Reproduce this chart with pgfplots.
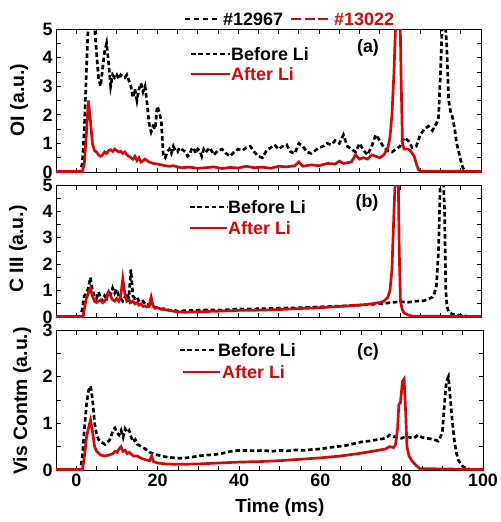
\documentclass[border=0pt]{standalone}
\usepackage{pgfplots}
\pgfplotsset{compat=1.18}
\usepackage{fontspec}
\setmainfont{Liberation Sans}
\definecolor{myred}{RGB}{212,8,8}
\newcommand{\fs}[1]{\fontsize{#1}{#1}\selectfont}
\tikzset{
  bl/.style={black, line width=2.7pt, dash pattern=on 4.5bp off 2.8bp},
  rd/.style={myred, line width=2.7pt},
}
\pgfplotsset{
  panel/.style={
    scale only axis, width=425bp, xmin=-5, xmax=100,
    axis line style={line width=0.9pt},
    tick style={black, line width=0.8pt},
    major tick length=4.5bp, minor tick length=4.5bp,
    tick pos=both, tick align=inside,
    xtick={0,20,...,100}, minor x tick num=3,
    minor y tick num=1,
    ticklabel style={font=\bfseries\fs{18}},
    /pgf/number format/assume math mode=true,
  },
}
\begin{document}
\begin{tikzpicture}
\useasboundingbox (0bp,0bp) rectangle (501bp,-522bp);
% ---------- (a)
\begin{axis}[panel, at={(56bp,-172bp)}, anchor=south west, height=143bp,
  ymin=0, ymax=5, ytick={0,1,...,5}, xticklabels={}]
\addplot[bl] coordinates {(-5,0) (1,0) (1.5,0.3) (2,1.5) (2.5,3.5) (3,5.3) (3.5,5.6) (4,5.4) (4.5,5.1) (5,4.2) (5.5,3.3) (6,3.0) (6.5,3.6) (7,4.2) (7.5,4.5) (8,3.8) (8.5,3.0) (9,3.4) (9.5,3.3) (10,3.4) (10.5,3.25) (11,3.4) (11.5,3.35) (12,3.3) (12.5,3.4) (13,3.2) (13.5,3.0) (14,2.6) (14.5,2.9) (15,2.5) (15.5,2.9) (16,3.1) (16.5,2.8) (17,3.0) (17.5,2.4) (18,1.7) (18.5,1.4) (19,1.6) (19.5,1.5) (20,2.3) (20.5,2.1) (21,1.8) (21.5,0.6) (22,0.5) (22.5,0.7) (23,0.8) (23.5,0.65) (24,0.9) (24.5,0.75) (25,0.7) (25.5,0.85) (26,0.8) (26.5,0.75) (27,0.7) (27.5,0.55) (28,0.6) (28.5,0.8) (29,0.85) (29.5,0.65) (30,0.8) (30.5,0.75) (31,0.55) (31.5,0.8) (32,0.7) (33,0.85) (34,0.6) (35,0.75) (36,0.8) (37,0.65) (38,0.55) (39,0.7) (40,0.8) (41,0.75) (42,0.85) (43,0.9) (44,0.7) (45,0.55) (46,0.5) (47,0.75) (48,0.85) (49,0.95) (50,0.8) (51,0.9) (52,0.95) (53,0.7) (54,0.65) (55,1.0) (56,0.9) (57,0.7) (58,0.65) (59,0.75) (60,0.85) (61,0.9) (62,1.0) (63,0.95) (64,1.1) (65,1.0) (66,1.3) (67,0.9) (68,0.8) (69,0.7) (70,1.0) (71,0.75) (72,0.6) (73,0.9) (74,1.3) (75,1.1) (76,0.85) (77,0.75) (78,0.7) (79,0.8) (80,0.9) (81,1.2) (82,1.1) (83,0.85) (84,0.9) (85,1.3) (86,1.5) (87,1.6) (88,1.45) (89,1.7) (89.5,1.9) (90,3.5) (90.5,5.5) (91,5.6) (91.5,4.5) (92,2.5) (92.5,2.1) (93,1.9) (93.5,1.5) (94,1.0) (94.5,0.7) (95,0.4) (95.5,0.15) (96,0.05) (97,0) (100,0)};
\addplot[rd] coordinates {(-5,0.02) (1.5,0.02) (2,0.3) (2.5,1.3) (3,2.5) (3.5,1.8) (4,1.0) (4.5,0.75) (5,0.7) (5.5,0.6) (6,0.55) (6.5,0.6) (7,0.7) (7.5,0.65) (8,0.75) (8.5,0.78) (9,0.72) (9.5,0.8) (10,0.75) (10.5,0.7) (11,0.72) (11.5,0.65) (12,0.7) (12.5,0.6) (13,0.55) (13.5,0.5) (14,0.45) (14.5,0.55) (15,0.4) (15.5,0.5) (16,0.35) (16.5,0.4) (17,0.45) (17.5,0.4) (18,0.35) (19,0.3) (20,0.28) (21,0.25) (22,0.22) (23,0.2) (24,0.22) (25,0.18) (26,0.15) (28,0.17) (30,0.13) (32,0.15) (34,0.18) (36,0.12) (38,0.16) (40,0.14) (42,0.2) (44,0.15) (46,0.17) (48,0.13) (50,0.2) (52,0.18) (54,0.22) (55,0.35) (56,0.2) (58,0.25) (60,0.22) (62,0.3) (64,0.28) (65,0.38) (66,0.3) (68,0.35) (69,0.6) (70,0.45) (71,0.5) (72,0.45) (73,0.6) (74,0.55) (75,0.5) (76,0.6) (77,0.85) (77.5,1.2) (78,2.0) (78.5,3.5) (79,5.5) (79.5,6) (80,5.5) (80.3,3.0) (80.6,1.0) (81,0.8) (82,0.8) (82.5,0.75) (83,0.65) (83.5,0.55) (84,0.3) (84.5,0.1) (85,0.03) (100,0.02)};
\end{axis}
% ---------- (b)
\begin{axis}[panel, at={(56bp,-317bp)}, anchor=south west, height=132bp,
  ymin=0, ymax=5, ytick={0,1,...,5}, xticklabels={}]
\addplot[bl] coordinates {(-5,0) (1,0) (1.5,0.3) (2,0.8) (2.5,0.9) (3,1.1) (3.5,1.5) (4,1.0) (4.5,0.8) (5,0.7) (5.5,0.95) (6,0.75) (6.5,0.6) (7,0.8) (7.5,0.7) (8,1.0) (8.5,0.85) (9,1.1) (9.5,0.9) (10,1.05) (10.5,0.8) (11,0.7) (11.5,0.6) (12,0.75) (12.5,0.9) (13,0.7) (13.5,1.8) (14,0.8) (14.5,0.7) (15,0.75) (15.5,0.6) (16,0.55) (16.5,0.6) (17,0.5) (17.5,0.45) (18,0.5) (19,0.4) (20,0.35) (21,0.3) (22,0.32) (23,0.25) (24,0.28) (25,0.22) (27,0.24) (30,0.25) (33,0.27) (36,0.26) (40,0.3) (45,0.31) (50,0.33) (55,0.35) (60,0.38) (65,0.41) (70,0.45) (75,0.5) (78,0.55) (80,0.58) (82,0.56) (84,0.6) (86,0.62) (87,0.68) (88,0.75) (88.5,0.9) (89,1.2) (89.5,2.5) (90,5.5) (90.5,6) (91,4.0) (91.3,1.0) (91.6,0.4) (92,0.2) (93,0.1) (95,0.06) (97,0.02) (100,0.02)};
\addplot[rd] coordinates {(-5,0.02) (1.7,0.02) (2,0.3) (2.5,0.7) (3,0.9) (3.5,1.1) (4,0.8) (4.5,0.6) (5,0.55) (5.5,0.6) (6,0.65) (6.5,0.55) (7,0.6) (7.5,0.7) (8,0.95) (8.5,0.8) (9,0.65) (9.5,0.6) (10,0.7) (10.5,0.6) (11,0.8) (11.5,1.45) (12,0.9) (12.5,0.6) (13,0.65) (13.5,0.55) (14,0.6) (14.5,0.5) (15,0.55) (15.5,0.45) (16,0.5) (16.5,0.4) (17,0.42) (17.5,0.38) (18,0.4) (18.5,0.75) (19,0.4) (19.5,0.33) (20,0.35) (21,0.3) (22,0.28) (23,0.25) (24,0.22) (25,0.2) (27,0.18) (30,0.2) (35,0.22) (40,0.25) (45,0.26) (50,0.28) (55,0.32) (60,0.35) (65,0.4) (70,0.45) (73,0.5) (75,0.55) (76,0.6) (77,0.75) (77.5,1.0) (78,1.8) (78.5,4) (79,6) (79.5,6) (79.8,2.5) (80.1,0.6) (80.5,0.3) (81,0.15) (82,0.08) (83,0.03) (100,0.02)};
\end{axis}
% ---------- (c)
\begin{axis}[panel, at={(56bp,-470bp)}, anchor=south west, height=140bp, width=427bp,
  ymin=0, ymax=3, ytick={0,1,2,3}]
\addplot[bl] coordinates {(-5,0) (1,0) (1.5,0.3) (2,0.9) (2.5,1.4) (3,1.7) (3.5,1.8) (4,1.5) (4.5,1.0) (5,0.75) (5.5,0.65) (6,0.6) (6.5,0.58) (7,0.55) (7.5,0.6) (8,0.62) (8.5,0.7) (9,0.85) (9.5,0.9) (10,0.8) (10.5,0.75) (11,0.85) (11.5,0.7) (12,0.88) (12.5,0.8) (13,0.85) (13.5,0.7) (14,0.6) (14.5,0.65) (15,0.55) (16,0.5) (17,0.45) (18,0.38) (19,0.35) (20,0.32) (22,0.28) (24,0.26) (26,0.25) (28,0.27) (30,0.3) (32,0.32) (34,0.33) (36,0.36) (38,0.4) (40,0.42) (42,0.42) (44,0.41) (46,0.42) (48,0.4) (50,0.42) (52,0.41) (54,0.43) (56,0.42) (58,0.44) (60,0.45) (62,0.48) (64,0.5) (66,0.52) (68,0.56) (70,0.6) (72,0.62) (74,0.65) (76,0.68) (77,0.75) (78,0.72) (79,0.7) (80,0.68) (81,0.72) (82,0.7) (83,0.68) (84,0.75) (85,0.7) (86,0.68) (87,0.67) (88,0.65) (89,0.62) (89.5,0.7) (90,0.8) (90.5,1.4) (91,1.9) (91.5,2.0) (92,1.5) (92.5,1.0) (93,0.6) (93.5,0.35) (94,0.2) (95,0.08) (96,0.03) (97,0.01) (100,0)};
\addplot[rd] coordinates {(-5,0.01) (1.5,0.01) (2,0.3) (2.5,0.7) (3,0.9) (3.5,1.07) (4,0.8) (4.5,0.5) (5,0.4) (6,0.32) (7,0.3) (8,0.32) (9,0.35) (9.5,0.4) (10,0.38) (10.5,0.45) (11,0.5) (11.5,0.4) (12,0.42) (12.5,0.35) (13,0.38) (14,0.3) (15,0.3) (16,0.25) (17,0.22) (18,0.2) (18.5,0.3) (19,0.18) (20,0.15) (22,0.13) (25,0.12) (30,0.13) (35,0.15) (40,0.17) (45,0.18) (50,0.2) (55,0.23) (60,0.26) (65,0.3) (70,0.36) (74,0.42) (76,0.45) (77,0.5) (78,0.48) (78.5,0.55) (79,0.9) (79.3,1.4) (79.7,1.45) (80.2,1.9) (80.6,1.95) (81,1.2) (81.3,0.5) (81.8,0.3) (82.5,0.2) (83.5,0.1) (84.5,0.03) (100,0.01)};
\end{axis}
% ---------- labels
\node[rotate=90, font=\bfseries\fs{19.5}] at (19bp,-100bp) {OI (a.u.)};
\node[rotate=90, font=\bfseries\fs{19.5}] at (18bp,-249bp) {C III (a.u.)};
\node[rotate=90, font=\bfseries\fs{19.5}] at (22bp,-401bp) {Vis Contm (a.u.)};
\node[font=\bfseries\fs{19}] at (280bp,-508bp) {Time (ms)};
% top legend
\draw[black, line width=1.3pt, dash pattern=on 5bp off 4bp] (185bp,-19bp) -- (220bp,-19bp);
\node[anchor=west, inner sep=0pt, font=\bfseries\fs{18}] at (223bp,-19bp) {\#12967};
\draw[myred, line width=1.3pt, dash pattern=on 10bp off 3.5bp] (291bp,-19bp) -- (329bp,-19bp);
\node[anchor=west, inner sep=0pt, text=myred, font=\bfseries\fs{18}] at (334bp,-19bp) {\#13022};
% panel legends
\draw[bl] (191bp,-54bp) -- (230bp,-54bp);
\node[anchor=west, inner sep=0pt, font=\bfseries\fs{18}] at (231bp,-54bp) {Before Li};
\draw[rd] (191bp,-74bp) -- (230bp,-74bp);
\node[anchor=west, inner sep=0pt, text=myred, font=\bfseries\fs{18}] at (231bp,-74bp) {After Li};
\node[font=\bfseries\fs{18}] at (368bp,-48bp) {(a)};
\draw[bl] (190bp,-207bp) -- (227bp,-207bp);
\node[anchor=west, inner sep=0pt, font=\bfseries\fs{18}] at (228bp,-207bp) {Before Li};
\draw[rd] (190bp,-228bp) -- (227bp,-228bp);
\node[anchor=west, inner sep=0pt, text=myred, font=\bfseries\fs{18}] at (228bp,-228bp) {After Li};
\node[font=\bfseries\fs{18}] at (367bp,-203bp) {(b)};
\draw[bl] (180bp,-350bp) -- (216bp,-350bp);
\node[anchor=west, inner sep=0pt, font=\bfseries\fs{18}] at (218bp,-350bp) {Before Li};
\draw[rd] (183bp,-372bp) -- (220bp,-372bp);
\node[anchor=west, inner sep=0pt, text=myred, font=\bfseries\fs{18}] at (222bp,-372bp) {After Li};
\node[font=\bfseries\fs{18}] at (368bp,-352bp) {(c)};
\end{tikzpicture}
\end{document}
